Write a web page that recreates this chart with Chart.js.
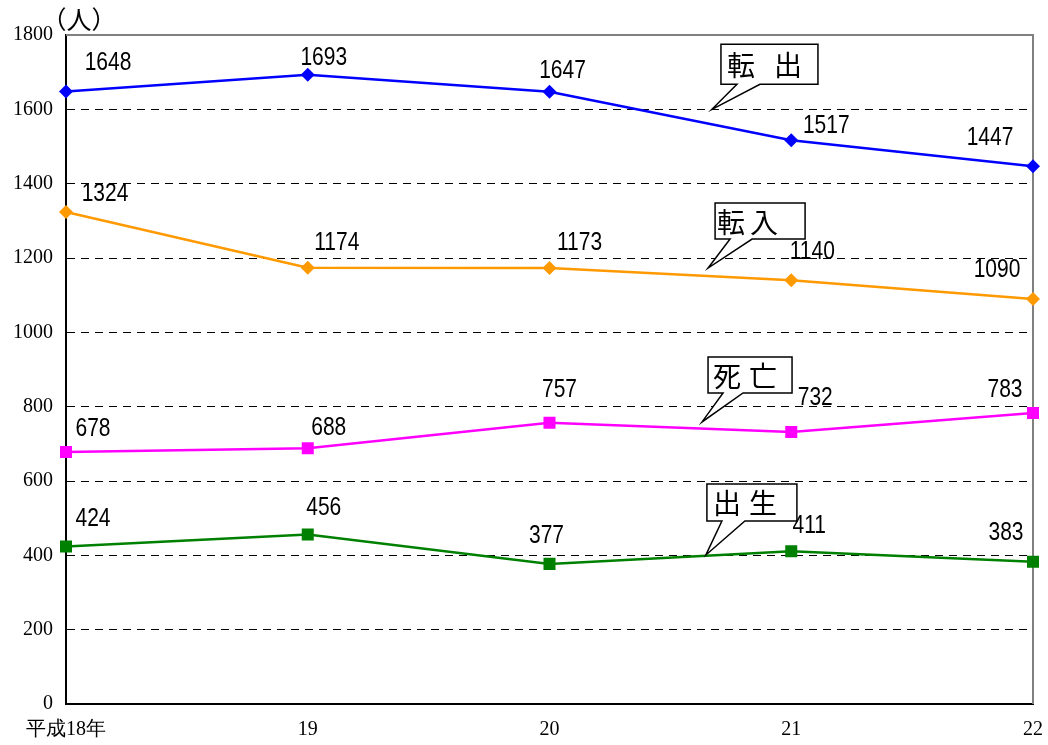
<!DOCTYPE html>
<html><head><meta charset="utf-8">
<script src="https://cdn.jsdelivr.net/npm/chart.js@4.4.0/dist/chart.umd.min.js"></script>
<style>html,body{margin:0;padding:0;background:#fff;}#wrap{width:1048px;height:745px;}</style>
</head><body><div id="wrap"><canvas id="c" width="1048" height="745"></canvas></div>
<script>
const categories = ['平成18年', '19', '20', '21', '22'];
const tenshutsu = [1648, 1693, 1647, 1517, 1447];
const tennyu = [1324, 1174, 1173, 1140, 1090];
const shibou = [678, 688, 757, 732, 783];
const shussei = [424, 456, 377, 411, 383];
const yTicks = [0, 200, 400, 600, 800, 1000, 1200, 1400, 1600, 1800];
const seriesNames = ['転出', '転入', '死亡', '出生'];
const yUnit = '（人）';

// label offsets (px) relative to points — styling only
const labelOffsets = [
  [[42,-29],[16,-18],[13,-22],[35,-15],[-43,-29]],
  [[39,-19],[29,-26],[30,-26],[21,-29],[-36,-30]],
  [[27,-24],[21,-21],[10,-34],[24,-35],[-28,-24]],
  [[27,-28],[16,-27],[-3,-29],[18,-26],[-27,-30]]
];

// callouts: anchor in data coords (category index, value), box geometry relative to tip in px
const callouts = [
  {chars:['転','出'], at:[2.672,1600], box:[9,-65,97,40], base:[25,48], cx:[20,67]},
  {chars:['転','入'], at:[2.656,1173], box:[7,-65,90,36], base:[22,44], cx:[16,49]},
  {chars:['死','亡'], at:[2.631,759], box:[6,-65,84,36], base:[21,41], cx:[19,55]},
  {chars:['出','生'], at:[2.647,401], box:[1,-71,90,37], base:[16,39], cx:[20,56]}
];

const labelPlugin = {
  id:'labels',
  afterDatasetsDraw(chart){
    const ctx = chart.ctx;
    chart.data.datasets.forEach((ds, di) => {
      const meta = chart.getDatasetMeta(di);
      meta.data.forEach((pt, i) => {
        const o = labelOffsets[di][i];
        ctx.save();
        ctx.font = '25px "Liberation Sans", Arial, sans-serif';
        ctx.fillStyle = '#000';
        ctx.textAlign = 'center';
        ctx.textBaseline = 'middle';
        ctx.translate(pt.x + o[0], pt.y + o[1] + 1);
        ctx.scale(0.84, 1);
        ctx.fillText(String(ds.data[i]), 0, 0);
        ctx.restore();
      });
    });
  }
};

const framePlugin = {
  id:'frame',
  beforeDatasetsDraw(chart){
    const {ctx, chartArea:a} = chart;
    ctx.save();
    ctx.strokeStyle = '#808080';
    ctx.lineWidth = 2;
    ctx.beginPath();
    ctx.moveTo(a.left, a.top); ctx.lineTo(a.right, a.top); ctx.lineTo(a.right, a.bottom);
    ctx.stroke();
    ctx.restore();
  },
  afterDraw(chart){
    const {ctx} = chart;
    ctx.save();
    ctx.font = '25px "Noto Sans CJK JP", sans-serif';
    ctx.fillStyle = '#000';
    ctx.textAlign = 'center';
    ctx.textBaseline = 'middle';
    ctx.fillText(yUnit, 79, 19);
    const xs = chart.scales.x, ys = chart.scales.y;
    callouts.forEach(c => {
      const tx = xs.getPixelForValue(c.at[0]);
      const ty = ys.getPixelForValue(c.at[1]);
      const bx = tx + c.box[0], by = ty + c.box[1], bw = c.box[2], bh = c.box[3];
      ctx.fillStyle = '#fff';
      ctx.strokeStyle = '#000';
      ctx.lineWidth = 1.5;
      ctx.beginPath();
      ctx.moveTo(bx, by);
      ctx.lineTo(bx + bw, by);
      ctx.lineTo(bx + bw, by + bh);
      ctx.lineTo(tx + c.base[1], by + bh);
      ctx.lineTo(tx, ty);
      ctx.lineTo(tx + c.base[0], by + bh);
      ctx.lineTo(bx, by + bh);
      ctx.closePath();
      ctx.fill();
      ctx.stroke();
      ctx.fillStyle = '#000';
      ctx.font = '28px "Noto Sans CJK JP", sans-serif';
      c.chars.forEach((ch, k) => ctx.fillText(ch, bx + c.cx[k], by + bh / 2 + 1));
    });
    ctx.restore();
  }
};

const mk = (label, data, color, style, r) => ({
  label, data, borderColor: color, backgroundColor: color,
  borderWidth: 2.5, pointStyle: style, pointRadius: r, pointHoverRadius: r,
  pointBorderWidth: 0, tension: 0, fill: false
});

new Chart(document.getElementById('c'), {
  type: 'line',
  data: {
    labels: categories,
    datasets: [
      mk(seriesNames[0], tenshutsu, '#0000FF', 'rectRot', 7),
      mk(seriesNames[1], tennyu, '#FF9900', 'rectRot', 7),
      mk(seriesNames[2], shibou, '#FF00FF', 'rect', 8.5),
      mk(seriesNames[3], shussei, '#008000', 'rect', 8.5)
    ]
  },
  options: {
    responsive: false,
    animation: false,
    devicePixelRatio: 1,
    layout: {padding: {top: 35, right: 15, left: 0, bottom: 0}},
    plugins: {legend: {display: false}, tooltip: {enabled: false}},
    scales: {
      x: {
        type: 'category',
        offset: false,
        grid: {display: false, drawTicks: false},
        border: {display: true, color: '#000', width: 2},
        ticks: {padding: 14, color: '#000', maxRotation: 0, autoSkip: false,
          font: {family: '"Liberation Serif", "DejaVu Serif", serif', size: 20}},
        afterFit: s => { s.height = 41; s.paddingLeft = 0; s.paddingRight = 0; }
      },
      y: {
        min: 0, max: 1800,
        afterBuildTicks: s => { s.ticks = yTicks.map(v => ({value: v})); },
        grid: {
          drawTicks: false,
          color: ctx => (ctx.tick && (ctx.tick.value === 0 || ctx.tick.value === 1800)) ? 'rgba(0,0,0,0)' : '#000',
          lineWidth: 1
        },
        border: {display: true, color: '#000', width: 2, dash: [8, 6]},
        ticks: {padding: 13, color: '#000', callback: v => String(v),
          font: {family: '"Liberation Serif", "DejaVu Serif", serif', size: 20}},
        afterFit: s => { s.width = 66; s.paddingTop = 0; s.paddingBottom = 0; }
      }
    }
  },
  plugins: [framePlugin, labelPlugin]
});
</script></body></html>
